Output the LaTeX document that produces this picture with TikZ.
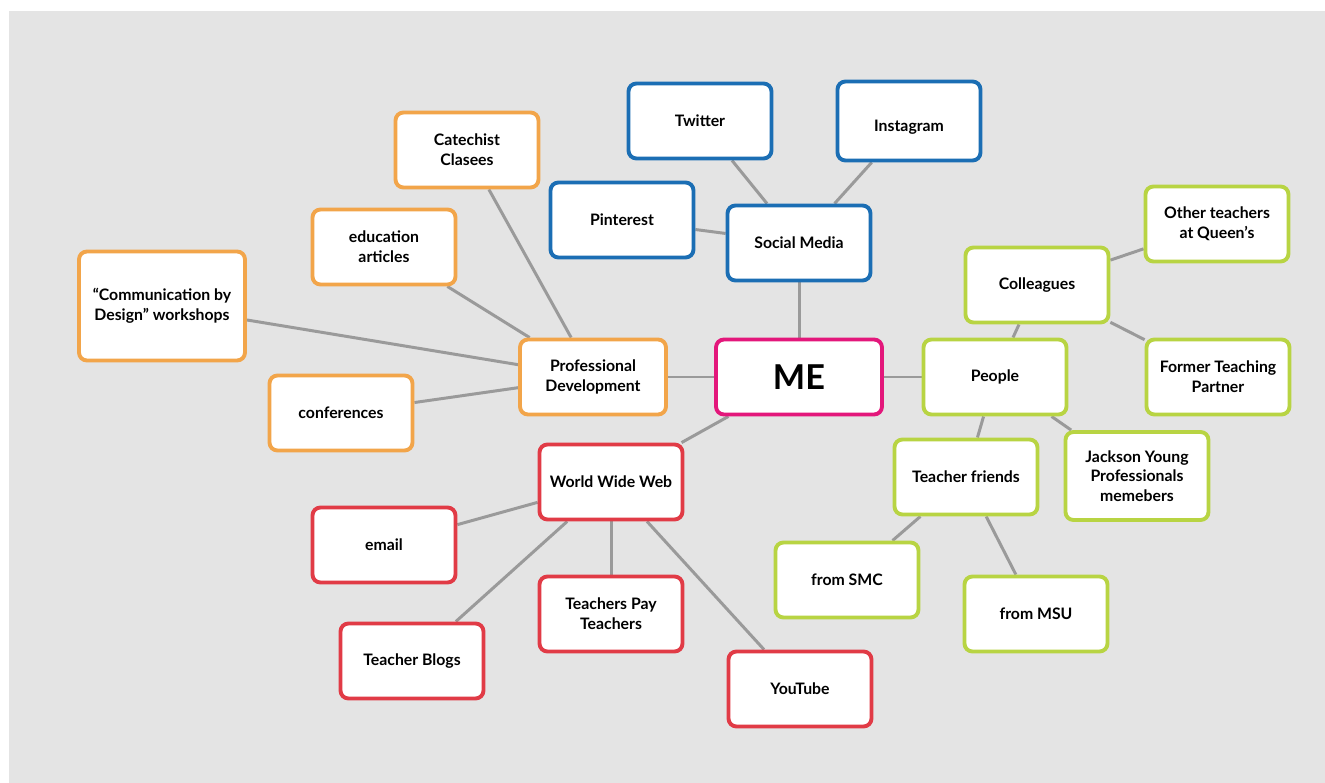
\documentclass[tikz,border=0pt]{standalone}
\usepackage{fontspec}
\setmainfont{Lato}
\usepackage{tikz}
\usetikzlibrary{backgrounds}

\definecolor{profcol}{HTML}{F2A54A}
\definecolor{mediacol}{HTML}{1B6EB4}
\definecolor{webcol}{HTML}{E13B46}
\definecolor{peoplecol}{HTML}{B8D443}
\definecolor{mecol}{HTML}{E3177B}
\definecolor{linkcol}{HTML}{9A9A9A}
\definecolor{paper}{HTML}{E4E4E4}

\begin{document}
\begin{tikzpicture}[
    x=0.02cm, y=-0.02cm,
    topic/.style={
        rectangle,
        rounded corners=4.5pt,
        draw=#1,
        line width=2.2pt,
        fill=white,
        minimum width=2.86cm,
        minimum height=1.5cm,
        inner sep=2pt,
        font=\fontsize{9}{11.2}\selectfont\bfseries,
        align=center
    },
    link/.style={
        draw=linkcol,
        line width=1.7pt
    }
]

% Canvas
\useasboundingbox (0,0) rectangle (1325,783);

% Centre
\node[topic=mecol, minimum width=3.32cm, minimum height=1.5cm,
      font=\fontsize{19.5}{22}\selectfont\bfseries] (me) at (799,377) {ME};

% Social media branch
\node[topic=mediacol] (social) at (799,243) {Social Media};
\node[topic=mediacol] (twitter) at (700,121) {Twitter};
\node[topic=mediacol, minimum height=1.58cm, text height=0.48cm] (instagram) at (909,121) {Instagram};
\node[topic=mediacol] (pinterest) at (622,220) {Pinterest};

% Professional development branch
\node[topic=profcol, minimum width=2.92cm] (profdev) at (593,377) {Professional\\Development};
\node[topic=profcol] (catechist) at (467,150) {Catechist\\Clasees};
\node[topic=profcol] (articles) at (384,247) {education\\articles};
\node[topic=profcol, minimum width=3.32cm, minimum height=2.18cm] (workshops) at (162,306) {``Communication by\\Design'' workshops};
\node[topic=profcol] (conferences) at (341,413) {conferences};

% People branch
\node[topic=peoplecol] (people) at (995,377) {People};
\node[topic=peoplecol] (colleagues) at (1037,285) {Colleagues};
\node[topic=peoplecol] (queens) at (1217,224) {Other teachers\\at Queen's};
\node[topic=peoplecol] (partner) at (1218,377) {Former Teaching\\Partner};
\node[topic=peoplecol, minimum height=1.76cm] (jackson) at (1137,476) {Jackson Young\\Professionals\\memebers};
\node[topic=peoplecol] (friends) at (966,477) {Teacher friends};
\node[topic=peoplecol] (smc) at (847,580) {from SMC};
\node[topic=peoplecol] (msu) at (1036,614) {from MSU};

% Web branch
\node[topic=webcol] (www) at (611,482) {World Wide Web};
\node[topic=webcol] (email) at (384,545) {email};
\node[topic=webcol] (tpt) at (611,614) {Teachers Pay\\Teachers};
\node[topic=webcol] (blogs) at (412,661) {Teacher Blogs};
\node[topic=webcol] (youtube) at (800,689) {YouTube};

% Links behind the boxes
\begin{pgfonlayer}{background}
\fill[white] (0,0) rectangle (1325,783);
\fill[paper] (9,11) rectangle (1325,783);
\draw[link] (me) -- (social);
\draw[link] (me) -- (profdev);
\draw[link] (me) -- (people);
\draw[link] (me) -- (www);
\foreach \leaf in {twitter,instagram,pinterest}
    \draw[link] (social) -- (\leaf);
\foreach \leaf in {catechist,articles,workshops,conferences}
    \draw[link] (profdev) -- (\leaf);
\foreach \leaf in {colleagues,jackson,friends}
    \draw[link] (people) -- (\leaf);
\draw[link] (colleagues) -- (queens);
\draw[link] (colleagues) -- (partner);
\draw[link] (friends) -- (smc);
\draw[link] (friends) -- (msu);
\foreach \leaf in {email,tpt,blogs,youtube}
    \draw[link] (www) -- (\leaf);
\end{pgfonlayer}

\end{tikzpicture}
\end{document}
